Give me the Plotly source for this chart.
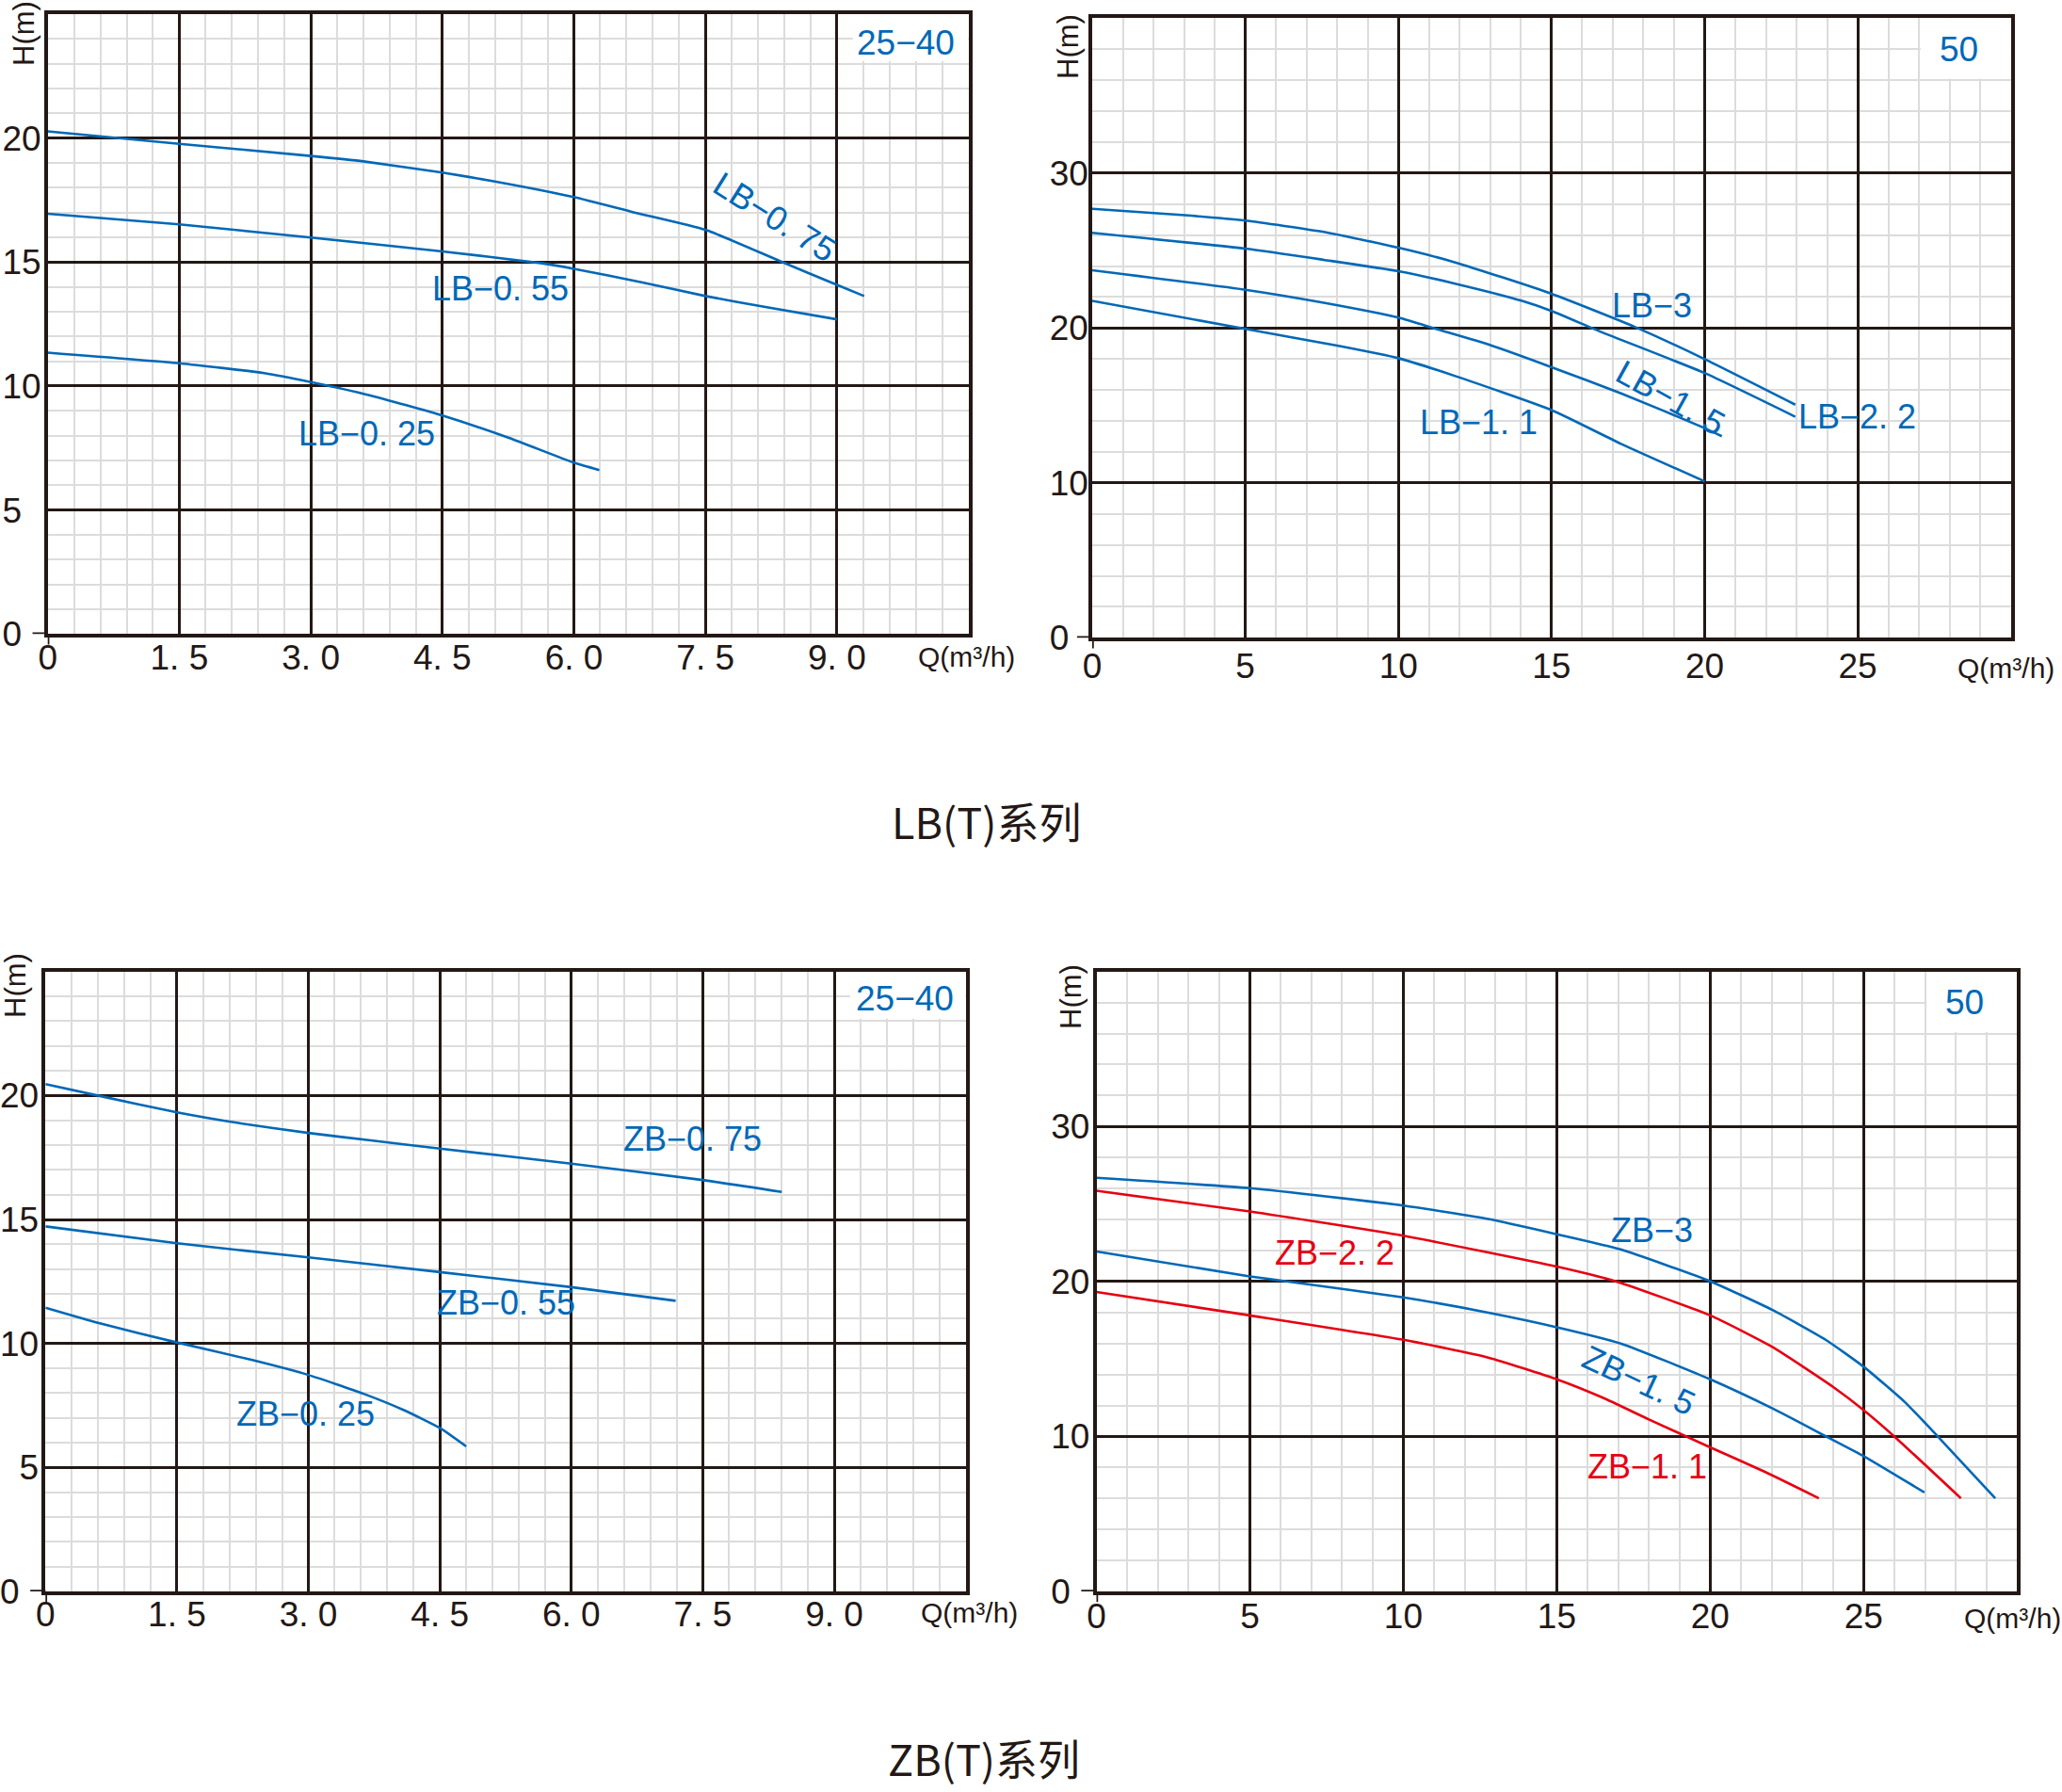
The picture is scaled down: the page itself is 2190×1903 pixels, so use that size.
import plotly.graph_objects as go

W, H = 2190, 1903
BLUE = "#0068b7"
RED = "#e60012"
INK = "#231815"
MINOR = "#dcdcdc"
NUM_FONT = "Liberation Sans, Arial, sans-serif"
CJK_FONT = "Noto Sans CJK SC, sans-serif"

# ---------------- LB(T) series, size 25-40 ----------------
lb2540_075_q = [0, 1.5, 3.0, 3.6, 4.5, 5.1, 6.0, 6.69, 7.5, 8.35, 9.0, 9.31]
lb2540_075_h = [20.27, 19.77, 19.28, 19.06, 18.61, 18.25, 17.62, 17.0, 16.3, 15.04, 14.08, 13.63]
lb2540_055_q = [0, 1.5, 3.0, 4.5, 5.64, 6.0, 6.77, 7.5, 8.2, 9.0]
lb2540_055_h = [16.95, 16.52, 15.99, 15.43, 14.95, 14.73, 14.19, 13.63, 13.18, 12.69]
lb2540_025_q = [0, 1.5, 2.47, 3.0, 3.68, 4.5, 5.26, 6.0, 6.29]
lb2540_025_h = [11.35, 10.92, 10.52, 10.16, 9.62, 8.81, 7.91, 6.91, 6.61]

# ---------------- LB(T) series, size 50 ----------------
lb50_3_q = [0, 3.02, 5, 7.56, 10, 11.88, 15, 17.7, 20, 22.96]
lb50_3_h = [27.69, 27.28, 26.93, 26.2, 25.18, 24.22, 22.21, 20.09, 17.99, 15.05]
lb50_22_q = [0, 5, 7.56, 10, 11.88, 14.04, 15, 16.63, 20, 22.96]
lb50_22_h = [26.14, 25.12, 24.4, 23.67, 22.85, 21.75, 21.1, 19.74, 17.09, 14.27]
lb50_15_q = [0, 5, 7.56, 10, 11.23, 12.96, 15, 17.27, 20, 20.56]
lb50_15_h = [23.73, 22.47, 21.63, 20.67, 19.94, 18.92, 17.47, 15.78, 13.54, 13.01]
lb50_11_q = [0, 5, 8.0, 10, 11.88, 15, 17.27, 20]
lb50_11_h = [21.75, 19.94, 18.86, 18.05, 16.88, 14.7, 12.52, 10.1]

# ---------------- ZB(T) series, size 25-40 ----------------
zb2540_075_q = [0, 0.62, 1.5, 2.2, 3.0, 3.71, 4.5, 6.0, 7.5, 8.4]
zb2540_075_h = [20.46, 19.98, 19.32, 18.89, 18.49, 18.19, 17.86, 17.25, 16.59, 16.11]
zb2540_055_q = [0, 1.5, 3.0, 4.5, 6.0, 7.19]
zb2540_055_h = [14.72, 14.04, 13.47, 12.88, 12.27, 11.72]
zb2540_025_q = [0, 0.62, 1.5, 2.35, 3.0, 3.63, 4.09, 4.5, 4.8]
zb2540_025_h = [11.44, 10.81, 10.04, 9.34, 8.73, 7.97, 7.31, 6.59, 5.85]

# ---------------- ZB(T) series, size 50 ----------------
zb50_3_q = [0, 5, 10, 12.77, 15, 17.08, 20, 22.03, 23.76, 25, 26.34, 27.52, 29.29]
zb50_3_h = [26.69, 26.02, 24.9, 24.03, 23.05, 22.07, 20.01, 18.16, 16.24, 14.5, 12.22, 9.78, 6.01]
zb50_22_q = [0, 5, 10, 15, 16.97, 20, 22, 24, 25, 26, 28.17]
zb50_22_h = [25.85, 24.52, 22.95, 20.96, 19.98, 17.81, 15.8, 13.2, 11.7, 10.0, 6.01]
zb50_15_q = [0, 5, 6.31, 10, 12.77, 15, 17.08, 20, 22.03, 23.76, 25, 26.98]
zb50_15_h = [21.93, 20.33, 19.98, 18.97, 17.99, 17.05, 16.0, 13.69, 11.81, 10.02, 8.73, 6.39]
zb50_11_q = [0, 5, 10, 12.77, 15, 16.5, 18, 20, 21.8, 23.54]
zb50_11_h = [19.32, 17.81, 16.24, 15.09, 13.69, 12.5, 11.1, 9.3, 7.7, 6.01]

# ---------------- axis ticks ----------------
small_x_ticks = [0, 1.5, 3.0, 4.5, 6.0, 7.5, 9.0]
small_x_text = ["0", "1. 5", "3. 0", "4. 5", "6. 0", "7. 5", "9. 0"]
small_y_ticks = [0, 5, 10, 15, 20]
small_y_text_lb = ["0\u2007", "5\u2007", "10", "15", "20"]
small_y_text_zb = ["0\u2007", "5", "10", "15", "20"]
big_x_ticks = [0, 5, 10, 15, 20, 25]
big_x_text = ["0", "5", "10", "15", "20", "25"]
big_y_ticks = [0, 10, 20, 30]
big_y_text = ["0\u2007", "10", "20", "30"]

series_titles = ["LB(T)系列", "ZB(T)系列"]
size_tags = ["25−40", "50", "25−40", "50"]

# panel frames in page pixels: left, right, top, bottom
frames = [
    (50.7, 1028.6, 15.0, 673.3),
    (1160.0, 2135.7, 19.3, 677.3),
    (48.3, 1025.7, 1031.7, 1690.0),
    (1164.5, 2142.3, 1031.7, 1690.0),
]
# tick label standoffs per panel (x, y)
standoffs = [(-10, -4), (-5, -7), (-11, -4), (-9, -4)]

def fx(p):
    return p / W

def fy(p):
    return 1 - p / H

panels = [
    dict(xr=10.5, yr=25, xt=small_x_ticks, xtt=small_x_text, yt=small_y_ticks, ytt=small_y_text_lb,
         xminor=0.3, yminor=1,
         curves=[(lb2540_075_q, lb2540_075_h, BLUE), (lb2540_055_q, lb2540_055_h, BLUE),
                 (lb2540_025_q, lb2540_025_h, BLUE)],
         labels=[("LB−0. 75", 8.29, 16.8, BLUE, 32), ("LB−0. 55", 5.16, 13.92, BLUE, 0),
                 ("LB−0. 25", 3.64, 8.09, BLUE, 0)],
         tag=(9.79, 23.84), box=(9.18, 10.5, 23.1, 25)),
    dict(xr=30, yr=40, xt=big_x_ticks, xtt=big_x_text, yt=big_y_ticks, ytt=big_y_text,
         xminor=1, yminor=2,
         curves=[(lb50_3_q, lb50_3_h, BLUE), (lb50_22_q, lb50_22_h, BLUE),
                 (lb50_15_q, lb50_15_h, BLUE), (lb50_11_q, lb50_11_h, BLUE)],
         labels=[("LB−3", 18.27, 21.43, BLUE, 0), ("LB−2. 2", 24.99, 14.26, BLUE, 0),
                 ("LB−1. 5", 18.9, 15.52, BLUE, 29), ("LB−1. 1", 12.63, 13.92, BLUE, 0)],
         tag=(28.3, 38.0), box=(27.05, 30, 36.1, 40)),
    dict(xr=10.5, yr=25, xt=small_x_ticks, xtt=small_x_text, yt=small_y_ticks, ytt=small_y_text_zb,
         xminor=0.3, yminor=1,
         curves=[(zb2540_075_q, zb2540_075_h, BLUE), (zb2540_055_q, zb2540_055_h, BLUE),
                 (zb2540_025_q, zb2540_025_h, BLUE)],
         labels=[("ZB−0. 75", 7.38, 18.23, BLUE, 0), ("ZB−0. 55", 5.26, 11.64, BLUE, 0),
                 ("ZB−0. 25", 2.97, 7.16, BLUE, 0)],
         tag=(9.81, 23.89), box=(9.18, 10.5, 23.1, 25)),
    dict(xr=30, yr=40, xt=big_x_ticks, xtt=big_x_text, yt=big_y_ticks, ytt=big_y_text,
         xminor=1, yminor=2,
         curves=[(zb50_3_q, zb50_3_h, BLUE), (zb50_22_q, zb50_22_h, RED),
                 (zb50_15_q, zb50_15_h, BLUE), (zb50_11_q, zb50_11_h, RED)],
         labels=[("ZB−3", 18.09, 23.33, BLUE, 0), ("ZB−2. 2", 7.75, 21.83, RED, 0),
                 ("ZB−1. 5", 17.66, 13.62, BLUE, 25), ("ZB−1. 1", 17.96, 8.03, RED, 0)],
         tag=(28.28, 38.0), box=(27.05, 30, 36.1, 40)),
]

# positions of the axis captions in page pixels
q_caption_pos = [(1026, 698), (2130, 709), (1029, 1712), (2137, 1718)]
h_caption_pos = [(26, 36), (1135, 50), (16, 1047), (1137, 1059)]
title_pos = [(1047, 871), (1045, 1866)]

fig = go.Figure()
annotations = []
shapes = []
layout = dict(
    width=W, height=H,
    margin=dict(l=0, r=0, t=0, b=0, autoexpand=False),
    paper_bgcolor="white", plot_bgcolor="white",
    showlegend=False,
)

def page_text(txt, x, y, size, family=NUM_FONT, angle=0):
    return dict(text=txt, x=fx(x), y=fy(y), xref="paper", yref="paper",
                xanchor="center", yanchor="middle", showarrow=False, textangle=angle,
                font=dict(family=family, size=size, color=INK))

for i, (p, fr, so) in enumerate(zip(panels, frames, standoffs), start=1):
    sfx = "" if i == 1 else str(i)
    xa, ya = "x" + sfx, "y" + sfx
    left, right, top, bottom = fr

    for q, h, col in p["curves"]:
        fig.add_trace(go.Scatter(x=q, y=h, mode="lines", xaxis=xa, yaxis=ya,
                                 line=dict(color=col, width=2.6, shape="spline", smoothing=0.5),
                                 hoverinfo="skip"))

    common = dict(
        showline=True, mirror=True, linecolor=INK, linewidth=3.5,
        showgrid=True, gridcolor=INK, gridwidth=2.6, zeroline=False,
        ticks="", tickmode="array", automargin=False,
        tickfont=dict(family=NUM_FONT, size=37, color=INK),
        fixedrange=True, layer="above traces",
    )
    layout["xaxis" + sfx] = dict(
        common, domain=[fx(left), fx(right)], range=[0, p["xr"]], anchor=ya,
        tickvals=p["xt"], ticktext=p["xtt"], ticklabelstandoff=so[0],
        minor=dict(tickmode="linear", tick0=0, dtick=p["xminor"], showgrid=True,
                   gridcolor=MINOR, gridwidth=2, ticks=""),
    )
    layout["yaxis" + sfx] = dict(
        common, domain=[fy(bottom), fy(top)], range=[0, p["yr"]], anchor=xa,
        tickvals=p["yt"], ticktext=p["ytt"], ticklabelstandoff=so[1],
        minor=dict(tickmode="linear", tick0=0, dtick=p["yminor"], showgrid=True,
                   gridcolor=MINOR, gridwidth=2, ticks=""),
    )

    # curve labels
    for txt, lx, ly, col, ang in p["labels"]:
        annotations.append(dict(text=txt, x=lx, y=ly, xref=xa, yref=ya, showarrow=False,
                                xanchor="center", yanchor="middle", textangle=ang,
                                font=dict(family=NUM_FONT, size=36, color=col)))

    # pump size tag with a clear patch under it
    bx0, bx1, by0, by1 = p["box"]
    shapes.append(dict(type="rect", xref=xa, yref=ya, x0=bx0, x1=bx1, y0=by0, y1=by1,
                       fillcolor="white", line=dict(width=0), layer="between"))
    annotations.append(dict(text=size_tags[i - 1], x=p["tag"][0], y=p["tag"][1], xref=xa, yref=ya,
                            showarrow=False, xanchor="center", yanchor="middle",
                            font=dict(family=NUM_FONT, size=37, color=BLUE)))

    # short axis overhang at the origin
    shapes.append(dict(type="line", xref=xa + " domain", yref=ya, x0=-0.0165, x1=0, y0=0, y1=0,
                       line=dict(color=INK, width=3.5), layer="above"))
    shapes.append(dict(type="line", xref=xa, yref=ya + " domain", x0=0, x1=0, y0=-0.017, y1=0,
                       line=dict(color=INK, width=3.5), layer="above"))

    # axis captions
    qx, qy = q_caption_pos[i - 1]
    annotations.append(page_text("Q(m³/h)", qx, qy, 30))
    hx, hy = h_caption_pos[i - 1]
    annotations.append(page_text("H(m)", hx, hy, 31, angle=-90))

for txt, (tx, ty) in zip(series_titles, title_pos):
    annotations.append(page_text(txt, tx, ty, 45, family=CJK_FONT))

layout["annotations"] = annotations
layout["shapes"] = shapes
fig.update_layout(**layout)
fig.write_html("out.html")
